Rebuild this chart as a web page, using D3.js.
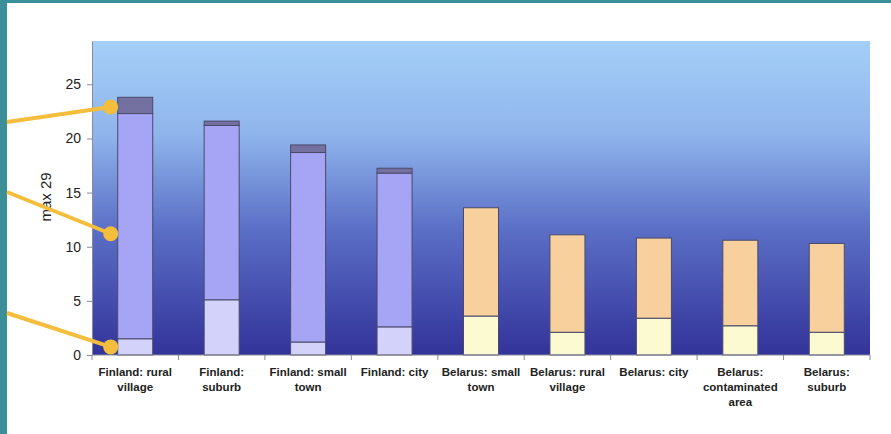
<!DOCTYPE html>
<html>
<head>
<meta charset="utf-8">
<script src="https://cdn.jsdelivr.net/npm/d3@7"></script>
<style>
  body { margin: 0; background: #fff; }
  svg { display: block; font-family: "Liberation Sans", Arial, sans-serif; }
</style>
</head>
<body>
<div class="viz"></div>
<script>
// categories with their wrapped tick labels
const categories = ["Finland: rural village", "Finland: suburb", "Finland: small town", "Finland: city",
  "Belarus: small town", "Belarus: rural village", "Belarus: city", "Belarus: contaminated area", "Belarus: suburb"];
const tickLabels = [["Finland: rural", "village"], ["Finland:", "suburb"], ["Finland: small", "town"], ["Finland: city"],
  ["Belarus: small", "town"], ["Belarus: rural", "village"], ["Belarus: city"], ["Belarus:", "contaminated", "area"], ["Belarus:", "suburb"]];

// stacked segments (bottom, middle, top)
const bottomValues = [1.5, 5.1, 1.2, 2.6, 3.6, 2.1, 3.4, 2.7, 2.1];
const middleValues = [20.8, 16.1, 17.5, 14.2, 10.0, 9.0, 7.4, 7.9, 8.2];
const topValues = [1.5, 0.4, 0.7, 0.45, 0, 0, 0, 0, 0];
const yTicks = [0, 5, 10, 15, 20, 25];
const yMax = 29;
// annotation dots point at the three segments of the first bar
const calloutValues = [22.9, 11.2, 0.75];

const width = 891, height = 434;
const margin = ({top: 41, right: 21, bottom: 79, left: 92});

const svg = d3.select('.viz').append('svg')
    .attr('width', width)
    .attr('height', height);

// slide frame
svg.append('rect').attr('x', 0).attr('y', 0).attr('width', width).attr('height', 3).attr('fill', '#3a8f98');
svg.append('rect').attr('x', 0).attr('y', 0).attr('width', 7).attr('height', height).attr('fill', '#3a8f98');

const x = d3.scaleBand()
    .domain(categories)
    .range([margin.left, width - margin.right]);

const y = d3.scaleLinear()
    .domain([0, yMax])
    .range([height - margin.bottom, margin.top]);

const defs = svg.append('defs');
const grad = defs.append('linearGradient')
    .attr('id', 'bg').attr('x1', 0).attr('y1', 0).attr('x2', 0).attr('y2', 1);
grad.append('stop').attr('offset', '0%').attr('stop-color', '#a4cff8');
grad.append('stop').attr('offset', '30%').attr('stop-color', '#8fb4ec');
grad.append('stop').attr('offset', '60%').attr('stop-color', '#5b6fc6');
grad.append('stop').attr('offset', '100%').attr('stop-color', '#33339a');

svg.append('rect')
    .attr('x', margin.left)
    .attr('y', margin.top)
    .attr('width', width - margin.right - margin.left)
    .attr('height', y(0) - margin.top)
    .attr('fill', 'url(#bg)');

const data = categories.map((c, i) => ({
  cat: c,
  bottom: bottomValues[i],
  middle: middleValues[i],
  top: topValues[i],
  finland: c.startsWith('Finland')
}));

const barW = x.bandwidth() * 0.405;
const barX = d => x(d.cat) + (x.bandwidth() - barW) / 2;

const segs = [];
data.forEach(d => {
  const b0 = 0, b1 = d.bottom, m1 = b1 + d.middle, t1 = m1 + d.top;
  segs.push({d, y0: b0, y1: b1, fill: d.finland ? '#d2d2fa' : '#fbfad0'});
  segs.push({d, y0: b1, y1: m1, fill: d.finland ? '#a6a4f4' : '#f8d09e'});
  if (d.top > 0) segs.push({d, y0: m1, y1: t1, fill: '#74709f'});
});

svg.append('g')
    .attr('stroke', '#4a4a6a')
    .attr('stroke-width', 1)
  .selectAll('rect').data(segs).enter().append('rect')
    .attr('x', s => barX(s.d))
    .attr('y', s => y(s.y1))
    .attr('width', barW)
    .attr('height', s => y(s.y0) - y(s.y1))
    .attr('fill', s => s.fill);

// y axis
const yAxis = svg.append('g')
    .attr('transform', `translate(${margin.left},0)`)
    .call(d3.axisLeft(y).tickValues(yTicks).tickSize(5).tickSizeOuter(0).tickPadding(6));
yAxis.select('.domain').attr('stroke', '#8a8a9a');
yAxis.selectAll('.tick line').attr('stroke', '#8a8a9a');
yAxis.selectAll('.tick text').attr('font-size', 14).attr('fill', '#222').attr('font-family', '"Liberation Sans", Arial, sans-serif');

// x axis: ticks at band boundaries
const xAxis = svg.append('g')
    .attr('transform', `translate(0,${y(0)})`);
xAxis.append('line')
    .attr('x1', margin.left).attr('x2', width - margin.right)
    .attr('stroke', '#8a8a9a');
xAxis.selectAll('line.bt').data(categories.concat(['end'])).enter().append('line')
    .attr('class', 'bt')
    .attr('x1', (c, i) => i < categories.length ? x(c) : x.range()[1])
    .attr('x2', (c, i) => i < categories.length ? x(c) : x.range()[1])
    .attr('y1', 0).attr('y2', 5)
    .attr('stroke', '#8a8a9a');

const lbl = xAxis.selectAll('text.lbl').data(categories).enter().append('text')
    .attr('class', 'lbl')
    .attr('text-anchor', 'middle')
    .attr('font-size', 11.5)
    .attr('font-weight', 'bold')
    .attr('fill', '#222')
    .attr('x', c => x(c) + x.bandwidth() / 2)
    .attr('y', 21);
lbl.each(function(c, i) {
  d3.select(this).selectAll('tspan').data(tickLabels[i]).enter().append('tspan')
      .attr('x', x(c) + x.bandwidth() / 2)
      .attr('dy', (t, j) => j === 0 ? 0 : 15)
      .text(t => t);
});

// y axis title
svg.append('text')
    .attr('transform', `translate(51,197) rotate(-90)`)
    .attr('text-anchor', 'middle')
    .attr('font-size', 15)
    .attr('fill', '#222')
    .text('max 29');

// yellow callouts
const calloutStarts = [122, 192, 313];
const dotX = barX(data[0]) - 7;
const callouts = svg.append('g');
calloutValues.forEach((v, i) => {
  callouts.append('line')
      .attr('x1', 7).attr('y1', calloutStarts[i])
      .attr('x2', dotX).attr('y2', y(v))
      .attr('stroke', '#f4be3c')
      .attr('stroke-width', 4);
  callouts.append('circle')
      .attr('cx', dotX).attr('cy', y(v))
      .attr('r', 7.5)
      .attr('fill', '#f4be3c');
});
</script>
</body>
</html>
